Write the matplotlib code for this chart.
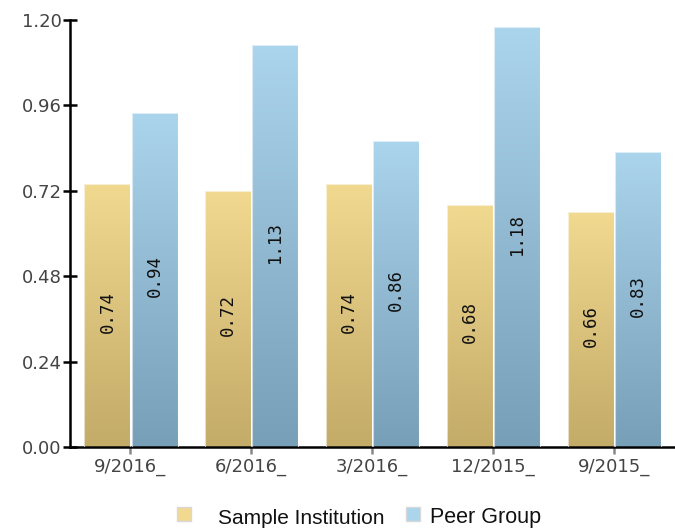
import matplotlib
matplotlib.use("Agg")
import matplotlib.pyplot as plt
import numpy as np
from matplotlib.patches import Rectangle

categories = ["9/2016_", "6/2016_", "3/2016_", "12/2015_", "9/2015_"]
sample_values = [0.74, 0.72, 0.74, 0.68, 0.66]
peer_values = [0.94, 1.13, 0.86, 1.18, 0.83]
series_names = ["Sample Institution", "Peer Group"]
yticks = [0.00, 0.24, 0.48, 0.72, 0.96, 1.20]

fig = plt.figure(figsize=(6.75, 5.31), dpi=100)
ax = fig.add_axes([70/675, 1 - 447/531, 604/675, 427/531])

x = np.arange(len(categories))
w = 0.38
gold = ("#F1D990", "#C3AB68")
blue = ("#ABD5ED", "#779FB7")

def grad_bars(xs, vals, cols):
    bars = ax.bar(xs, vals, width=w, color="none", edgecolor="none")
    cmap = matplotlib.colors.LinearSegmentedColormap.from_list("g", [cols[1], cols[0]])
    grad = np.linspace(0, 1, 256).reshape(-1, 1)
    for b in bars:
        x0, y0 = b.get_x(), b.get_y()
        bw, bh = b.get_width(), b.get_height()
        im = ax.imshow(grad, extent=(x0, x0 + bw, y0, y0 + bh),
                       origin="lower", aspect="auto", cmap=cmap, vmin=0, vmax=1, zorder=2)
        im.set_clip_path(b)
        ax.add_patch(Rectangle((x0, y0), bw, bh, fill=False,
                               edgecolor="white", lw=0.8, alpha=0.6, zorder=3))
    return bars

b1 = grad_bars(x - w/2, sample_values, gold)
b2 = grad_bars(x + w/2 + 0.01, peer_values, blue)

for bars, vals in ((b1, sample_values), (b2, peer_values)):
    for b, v in zip(bars, vals):
        ax.text(b.get_x() + b.get_width()/2, v/2 + 0.01, f"{v:.2f}", rotation=90,
                ha="center", va="center", fontsize=12.5, family="DejaVu Sans Mono",
                color="#111111", zorder=4)

ax.set_xlim(-0.5, 4.5)
ax.set_ylim(0, 1.2)
ax.set_yticks(yticks)
ax.set_yticklabels([f"{t:.2f}" for t in yticks])
ax.set_xticks(x)
ax.set_xticklabels(categories)
for s in ("top", "right"):
    ax.spines[s].set_visible(False)
ax.spines["left"].set_linewidth(1.8)
ax.spines["bottom"].set_linewidth(1.8)
ax.tick_params(axis="y", direction="inout", length=10, width=1.8, labelsize=13,
               labelcolor="#444444", pad=1)
ax.tick_params(axis="x", length=5, width=1.8, color="#888888", labelsize=13,
               labelcolor="#444444", pad=3)

# legend (manual, figure coordinates)
W, H = 675.0, 531.0
fig.patches.append(Rectangle((177/W, 1 - 521/H), 14/W, 14/H, transform=fig.transFigure,
                             facecolor=gold[0], edgecolor="#d8d8d8", lw=1, figure=fig))
fig.patches.append(Rectangle((406/W, 1 - 521/H), 14/W, 14/H, transform=fig.transFigure,
                             facecolor=blue[0], edgecolor="#d8d8d8", lw=1, figure=fig))
fig.text(218/W, 1 - 518/H, series_names[0], ha="left", va="center", fontsize=15,
         family="Liberation Sans", color="#111111")
fig.text(430/W, 1 - 518/H, series_names[1], ha="left", va="center", fontsize=15.5,
         family="Liberation Sans", color="#111111")

fig.savefig("out.png", dpi=100)
